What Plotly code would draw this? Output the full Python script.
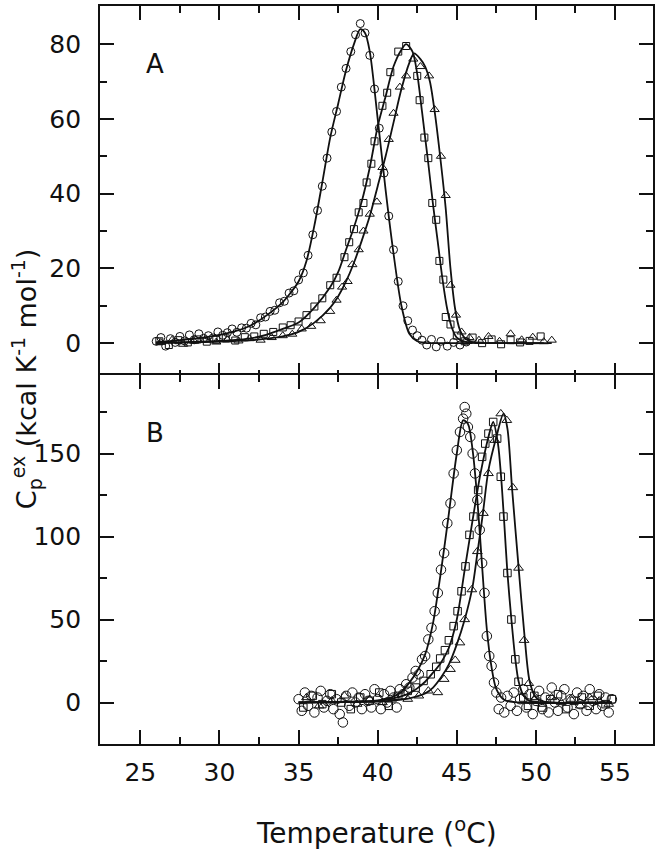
import plotly.graph_objects as go

# ---------------- Panel A data ----------------
A_circ_T = [26.0,26.3,26.6,26.9,27.2,27.5,27.8,28.1,28.4,28.7,29.0,29.3,29.6,29.9,30.2,30.5,30.8,31.1,31.4,31.7,
            32.0,32.3,32.6,32.9,33.2,33.5,33.8,34.1,34.4,34.7,35.0,35.3,35.6,35.9,36.2,36.5,36.8,37.1,37.4,37.7,
            38.0,38.3,38.6,38.9,39.2,39.5,39.8,40.1,40.4,40.7,41.0,41.3,41.6,41.9,42.2,42.5,42.8,43.1,43.4,43.7,
            44.0,44.4,44.8,45.2,45.6]
A_circ_v = [0.5,1.5,-0.8,1.2,0.2,1.8,0.6,2.2,0.9,2.5,1.3,2.0,1.4,3.0,2.1,2.8,3.8,2.9,4.1,4.0,
            5.3,4.9,6.8,7.0,8.5,8.8,10.8,11.2,13.4,14.0,16.9,18.8,23.5,29.0,35.5,42.0,49.5,56.5,62.0,68.5,
            73.5,78.0,82.5,85.5,83.0,77.0,68.0,57.5,45.5,34.0,25.0,16.5,10.0,6.0,3.5,2.0,0.8,-0.5,1.0,-1.0,
            0.5,-0.8,0.2,-0.5,0.3]

A_sq_T = [26.2,26.8,27.4,28.0,28.6,29.2,29.8,30.4,31.0,31.6,32.2,32.8,33.4,34.0,34.5,35.0,35.5,36.0,36.5,37.0,
          37.4,37.9,38.2,38.5,38.8,39.1,39.3,39.6,39.8,40.3,40.6,40.8,41.3,41.8,42.5,42.65,42.95,43.2,43.45,43.7,
          43.9,44.15,44.3,44.6,45.0,45.5,46.0,46.6,47.2,47.8,48.4,49.0,49.6,50.3]
A_sq_v = [0.5,-0.5,0.8,0.2,1.0,0.4,0.9,1.3,0.7,1.6,1.8,2.5,3.0,4.2,4.8,5.8,7.5,9.8,12.0,15.5,
          17.5,23.0,27.0,30.5,35.0,37.5,43.0,48.0,54.0,63.5,67.0,72.5,78.0,79.5,71.5,65.0,55.0,49.5,37.5,33.0,
          22.0,17.0,7.0,5.0,2.0,0.5,1.5,0.0,1.0,-0.3,0.8,0.2,0.6,1.8]

A_tri_T = [26.3,27.0,27.7,28.4,29.1,29.8,30.5,31.2,31.9,32.6,33.3,34.0,34.6,35.2,35.8,36.4,37.0,37.4,37.75,38.1,
           38.4,38.8,39.1,39.5,39.95,40.3,40.7,41.0,41.4,41.8,42.25,42.7,43.25,43.6,44.0,44.3,44.6,44.95,45.3,45.8,
           46.4,47.0,47.7,48.4,49.1,49.8,50.5,51.0]
A_tri_v = [0.2,0.8,-0.3,0.5,1.0,0.3,0.9,0.6,1.2,0.8,1.5,2.0,2.4,3.8,4.5,6.0,8.5,11.5,15.0,16.5,
           21.0,25.0,30.0,34.5,37.8,47.0,54.5,61.5,68.5,71.5,76.0,74.0,71.5,62.5,50.0,39.5,15.5,7.5,3.0,1.5,
           0.8,1.8,0.5,2.5,0.9,1.6,0.4,0.8]

A_circ_line_T = [26,27,28,29,30,31,32,33,34,34.5,35,35.5,36,36.5,37,37.5,38,38.5,38.9,39.2,39.5,40,40.5,41,41.5,42,42.5,43,44,46]
A_circ_line_v = [0.3,0.6,1.0,1.5,2.2,3.2,4.8,7.5,11,13.5,16.5,22,31.5,43,55,64,73,80,84,83,78,60,41,24,10,2.5,0.5,0.1,0,0]

A_sq_line_T = [26,28,30,32,33,34,35,36,37,37.5,38,38.5,39,39.5,40,40.5,41,41.5,41.8,42.2,42.5,42.8,43,43.2,43.5,43.8,44.1,44.4,44.7,45,45.5,46,48,50.5]
A_sq_line_v = [0.1,0.3,0.6,1.3,2.3,3.8,5.5,9.5,15,19,25,31,38,47,58,66,74,78.5,80,78,72,62,55,48,37,27,17,9,4,1.5,0.4,0.1,0,0]

A_tri_line_T = [26,30,32,33,34,35,36,37,37.5,38,38.5,39,39.5,40,40.5,41,41.5,42,42.3,42.7,43,43.3,43.6,44,44.3,44.6,44.9,45.2,45.6,46,48,51]
A_tri_line_v = [0,0.4,0.8,1.2,1.8,3,5.5,9.5,12.5,16.5,21.5,27.5,34,42,50,59,68,75,77.5,76,74,70,62,48,36,20,9,3.5,1,0.3,0,0]

# ---------------- Panel B data ----------------
B_circ_T = [35.0,35.2,35.4,35.6,35.8,36.0,36.2,36.4,36.6,36.8,37.0,37.2,37.4,37.6,37.8,38.0,38.2,38.4,38.6,38.8,
            39.0,39.2,39.4,39.6,39.8,40.0,40.2,40.4,40.6,40.8,41.0,41.2,41.4,41.6,41.8,42.0,42.2,42.4,42.6,42.8,
            43.0,43.2,43.4,43.6,43.8,44.0,44.2,44.4,44.6,44.8,45.0,45.2,45.4,45.5,45.6,45.7,45.85,46.0,46.15,46.3,
            46.45,46.6,46.75,46.9,47.05,47.2,47.35,47.5,47.65,47.8,48.0,48.2,48.4,48.6,48.8,49.0,49.2,49.4,49.6,49.8,
            50.0,50.2,50.4,50.6,50.8,51.0,51.2,51.4,51.6,51.8,52.0,52.2,52.4,52.6,52.8,53.0,53.2,53.4,53.6,53.8,
            54.0,54.2,54.4,54.6,54.8]
B_circ_v = [2,-5,6,-2,4,-6,3,7,-3,1,5,-4,2,-7,-12,4,-2,6,0,3,
            -4,5,1,-3,8,2,-4,5,0,7,3,-3,8,5,11,9,15,19,17,26,
            28,38,45,55,66,80,90,108,120,138,152,163,171,178,174,166,160,150,138,122,
            104,84,66,40,28,22,12,6,-4,3,-6,4,-2,6,-5,2,8,-3,5,-7,
            1,7,-4,3,-6,9,0,-5,4,8,-3,2,-7,6,-1,4,-5,8,1,-4,
            5,-2,3,-6,2]

B_sq_T = [35.3,35.9,36.5,37.1,37.7,38.3,38.9,39.5,40.1,40.7,41.3,41.9,42.4,42.9,43.35,43.7,43.95,44.25,44.5,44.8,
          45.05,45.3,45.55,45.8,46.05,46.35,46.6,46.8,47.0,47.3,47.55,47.78,47.95,48.2,48.45,48.7,48.9,49.2,49.5,49.9,
          50.4,50.9,51.4,51.9,52.4,52.9,53.4,53.9,54.4,54.8]
B_sq_v = [-3,4,-1,5,0,-4,3,1,6,-2,4,7,9,13,17,21.5,26.5,31.5,37.5,46,
          55,67,82,101,112,128,148,156,162,169,159,136,112,78,50,26,12.5,3,-2,4,
          -3,2,5,-4,1,3,-2,4,-1,2]

B_tri_T = [35.5,36.3,37.1,37.9,38.7,39.5,40.3,41.1,41.9,42.6,43.2,43.8,44.2,44.6,44.9,45.2,45.5,45.95,46.3,46.68,
           47.0,47.4,47.78,48.16,48.54,48.9,49.25,49.55,49.9,50.4,51.0,51.6,52.2,52.8,53.4,54.0,54.6]
B_tri_v = [3,-2,1,4,-1,2,0,3,2,4,7,6,14,20,25.5,36,50,68,91,114,
           138,158,174,170,129.5,81,37.5,11.5,2,-1,3,0,2,-2,3,1,-1]

B_circ_line_T = [35,37,39,40,41,41.5,42,42.5,43,43.5,44,44.5,45,45.4,45.7,46,46.3,46.6,46.9,47.2,47.5,48,49,54.8]
B_circ_line_v = [0,0.2,0.6,1.2,3.5,6.5,12,19,29,48,79,114,150,170,168,152,122,82,44,21,8,1.5,0,0]

B_sq_line_T = [35,38,40,41,42,42.5,43,43.5,44,44.5,45,45.5,46,46.5,47,47.3,47.6,47.8,48,48.2,48.45,48.7,48.9,49.2,49.5,50,54.8]
B_sq_line_v = [0,0.5,1,2.5,5.5,8.5,12.5,18,24,33,50,80,110,138,160,169,156,136,108,78,50,26,13,4.5,1.5,0.3,0]

B_tri_line_T = [35,38,40,41,42,43,43.5,44,44.5,45,45.5,46,46.3,46.65,47,47.5,47.95,48.2,48.5,48.9,49.3,49.6,50,50.5,54.8]
B_tri_line_v = [0,0.2,0.5,1.2,2.5,5.5,9,15,23,35,50,70,90,114,140,160,174,165,128,82,38,13,3,0.5,0]

x_ticks = [25, 30, 35, 40, 45, 50, 55]
A_y_ticks = [0, 20, 40, 60, 80]
B_y_ticks = [0, 50, 100, 150]

FONT = "DejaVu Sans, Liberation Sans, Arial, sans-serif"
BLACK = "#111111"
LW = 1.8

fig = go.Figure()

def markers(x, y, symbol, size, xa, ya):
    fig.add_trace(go.Scatter(x=x, y=y, mode="markers", xaxis=xa, yaxis=ya,
                             marker=dict(symbol=symbol, size=size, color=BLACK,
                                         line=dict(color=BLACK, width=1)),
                             showlegend=False, hoverinfo="skip"))

def fitline(x, y, xa, ya):
    fig.add_trace(go.Scatter(x=x, y=y, mode="lines", xaxis=xa, yaxis=ya,
                             line=dict(color=BLACK, width=1.8, shape="spline", smoothing=0.8),
                             showlegend=False, hoverinfo="skip"))

# Panel A (top)
markers(A_circ_T, A_circ_v, "circle-open", 8, "x", "y")
markers(A_sq_T, A_sq_v, "square-open", 7, "x", "y")
markers(A_tri_T, A_tri_v, "triangle-up-open", 8, "x", "y")
fitline(A_circ_line_T, A_circ_line_v, "x", "y")
fitline(A_sq_line_T, A_sq_line_v, "x", "y")
fitline(A_tri_line_T, A_tri_line_v, "x", "y")

# Panel B (bottom)
markers(B_circ_T, B_circ_v, "circle-open", 9.5, "x2", "y2")
markers(B_sq_T, B_sq_v, "square-open", 7.5, "x2", "y2")
markers(B_tri_T, B_tri_v, "triangle-up-open", 8.5, "x2", "y2")
fitline(B_circ_line_T, B_circ_line_v, "x2", "y2")
fitline(B_sq_line_T, B_sq_line_v, "x2", "y2")
fitline(B_tri_line_T, B_tri_line_v, "x2", "y2")

XRANGE = [22.45, 57.4]
PLOT_H = 852 - 4 - 108
OVERLAP = LW / PLOT_H

def xaxis_common(show_labels, anchor):
    return dict(range=XRANGE, tickmode="array", tickvals=x_ticks,
                ticks="inside", ticklen=14, tickwidth=1.6, tickcolor=BLACK,
                minor=dict(ticks="inside", ticklen=7, tickwidth=1.6, tickcolor=BLACK, dtick=2.5, tick0=0),
                showline=True, linewidth=LW, linecolor=BLACK, mirror="allticks",
                showgrid=False, zeroline=False, showticklabels=show_labels,
                tickfont=dict(family=FONT, size=25, color=BLACK),
                ticklabelstandoff=5, anchor=anchor, domain=[0, 1])

def yaxis_common(rng, ticks, minor_dtick, domain, anchor):
    return dict(range=rng, tickmode="array", tickvals=ticks,
                ticks="inside", ticklen=14, tickwidth=1.6, tickcolor=BLACK,
                minor=dict(ticks="inside", ticklen=7, tickwidth=1.6, tickcolor=BLACK, dtick=minor_dtick, tick0=0),
                showline=True, linewidth=LW, linecolor=BLACK, mirror="allticks",
                showgrid=False, zeroline=False,
                tickfont=dict(family=FONT, size=25, color=BLACK),
                ticklabelstandoff=12, anchor=anchor, domain=domain)

fig.update_layout(
    width=660, height=852,
    margin=dict(l=100, r=7, t=4, b=108),
    paper_bgcolor="white", plot_bgcolor="white",
    font=dict(family=FONT, color=BLACK),
    xaxis=xaxis_common(False, "y"),
    yaxis=yaxis_common([-9, 90.2], A_y_ticks, 10, [0.5 - OVERLAP, 1], "x"),
    xaxis2=dict(xaxis_common(True, "y2"), matches="x"),
    yaxis2=yaxis_common([-25, 197.3], B_y_ticks, 25, [0, 0.5], "x2"),
    annotations=[
        dict(text="A", x=0.0996, y=0.843, xref="x domain", yref="y domain",
             xanchor="center", yanchor="middle",
             showarrow=False, font=dict(family=FONT, size=26, color=BLACK)),
        dict(text="B", x=0.0996, y=0.844, xref="x2 domain", yref="y2 domain",
             xanchor="center", yanchor="middle",
             showarrow=False, font=dict(family=FONT, size=26, color=BLACK)),
        dict(text="C<sub>p</sub><sup>ex</sup> (kcal K<sup>-1</sup> mol<sup>-1</sup>)",
             x=-0.133, y=0.495, xref="paper", yref="paper", textangle=-90,
             xanchor="center", yanchor="middle",
             showarrow=False, font=dict(family=FONT, size=27, color=BLACK)),
        dict(text="Temperature (<sup>o</sup>C)", x=0.5, y=-0.119, xref="paper", yref="paper",
             xanchor="center", yanchor="middle",
             showarrow=False, font=dict(family=FONT, size=28, color=BLACK)),
    ],
)

fig.write_html("out.html", config={"displayModeBar": False},
               post_script="document.body.style.margin='0px';")
